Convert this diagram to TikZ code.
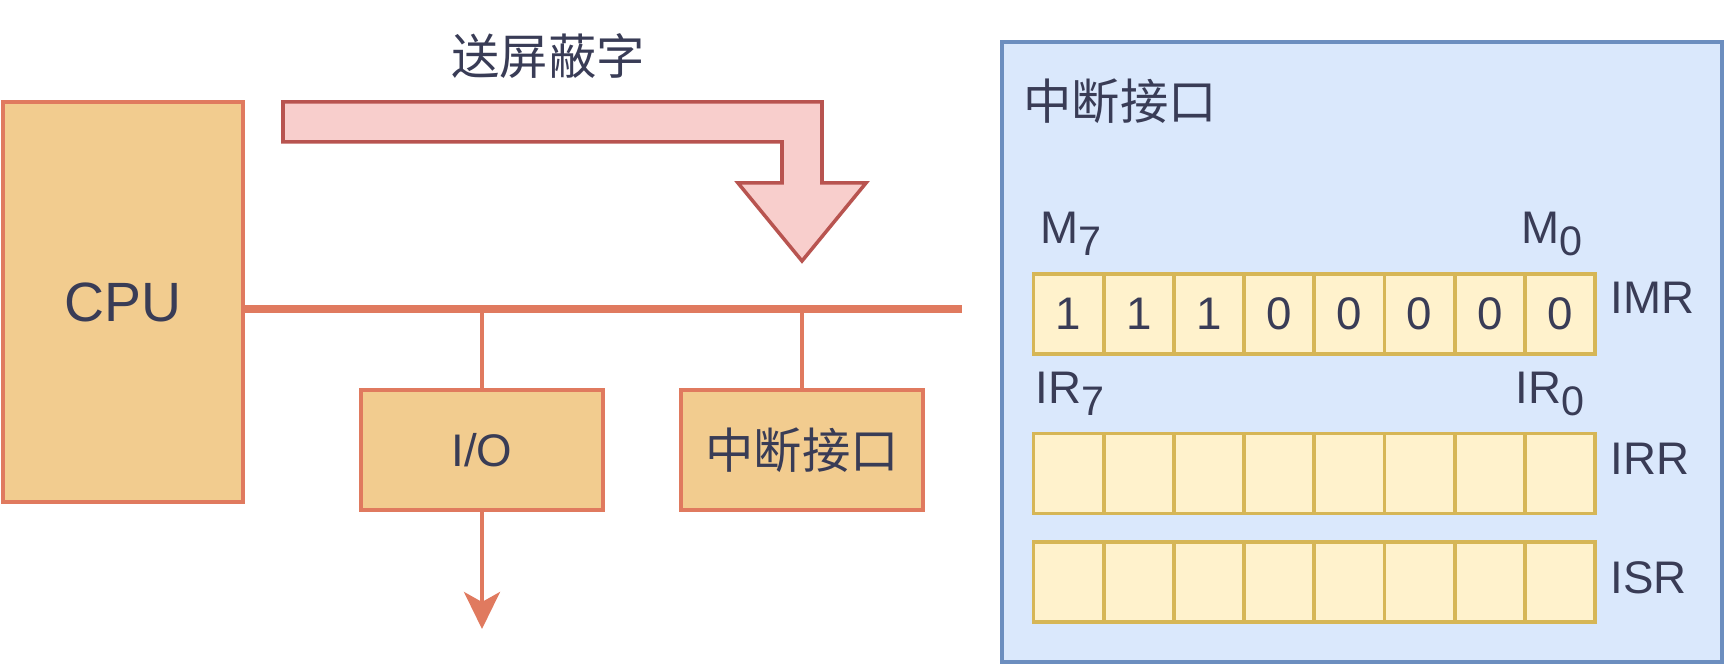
\documentclass[tikz,border=0pt]{standalone}
\usepackage{fontspec}
\setmainfont{Liberation Sans}
\newfontfamily\cjk{Noto Sans CJK SC}
\usepackage{tikz}
\usetikzlibrary{arrows.meta, positioning}
\definecolor{mysand}{RGB}{242,204,143}
\definecolor{myorange}{RGB}{224,122,95}
\definecolor{myink}{RGB}{57,60,86}
\definecolor{mypink}{RGB}{248,206,204}
\definecolor{myred}{RGB}{184,84,80}
\definecolor{mysky}{RGB}{218,232,252}
\definecolor{myblue}{RGB}{108,142,191}
\definecolor{mycream}{RGB}{255,242,204}
\definecolor{mygold}{RGB}{214,182,86}
\newcommand{\bigfont}{\fontsize{26pt}{30pt}\selectfont}
\newcommand{\cjkfont}{\fontsize{27.5pt}{32pt}\selectfont\cjk}
\newcommand{\lowsub}[1]{\raisebox{-0.24cm}{\fontsize{23.5pt}{26pt}\selectfont #1}}
\tikzset{
  unitbox/.style={rectangle, draw=myorange, fill=mysand,
    minimum width=4.84cm, minimum height=2.4cm, inner sep=0pt,
    font=\bigfont, text=myink, line width=2.2pt},
  panel/.style={rectangle, draw=myblue, fill=mysky,
    minimum width=14.4cm, minimum height=12.4cm, line width=2pt},
  cell/.style={rectangle, draw=mygold, fill=mycream,
    minimum width=1.404cm, minimum height=1.6cm, inner sep=0pt, outer sep=0pt,
    font=\bigfont, text=myink, line width=2.2pt},
  txt/.style={font=\bigfont, text=myink, inner sep=0pt},
  bentarrow/.style={draw=myred, fill=mypink, line width=2pt, line join=miter},
  bus/.style={line width=4.5pt, color=myorange},
  tap/.style={line width=2.2pt, color=myorange},
  arrow/.style={-{Stealth[length=0.74cm, width=0.72cm, inset=0.2cm]}, line width=2.2pt, color=myorange}
}
\begin{document}
\begin{tikzpicture}
  \useasboundingbox (0,0) rectangle (34.48,13.28);

  % left side: CPU, bus and devices
  \node[unitbox, minimum width=4.8cm, minimum height=8cm, font=\fontsize{31.5pt}{36pt}\selectfont] (cpu) at (2.46,7.24) {CPU};
  \node[unitbox] (io) at (9.64,4.28) {I/O};
  \node[unitbox] (intf) at (16.04,4.28) {\cjkfont 中断接口};
  \coordinate (busend) at (19.24,7.10);
  \coordinate (ioout) at (9.64,0.70);

  \draw[bus] (cpu.east |- busend) -- (busend);
  \draw[tap] (io.north |- busend) -- (io.north);
  \draw[tap] (intf.north |- busend) -- (intf.north);
  \draw[arrow] (io.south) -- (ioout);

  % mask word arrow
  \draw[bentarrow] (5.66,11.24) -- (16.44,11.24) -- (16.44,9.62) -- (17.32,9.62)
    -- (16.04,8.06) -- (14.76,9.62) -- (15.64,9.62) -- (15.64,10.44) -- (5.66,10.44) -- cycle;
  \node[txt, anchor=base] (masklbl) at (10.96,11.78) {\cjkfont 送屏蔽字};

  % right side: interrupt interface
  \node[panel] (pic) at (27.24,6.24) {};
  \node[txt, anchor=base west] (pictitle) at (20.46,10.88) {\cjkfont 中断接口};

  \foreach \v [count=\i] in {1,1,1,0,0,0,0,0}
    \node[cell] (imr-\i) at ({20.67+1.404*(\i-0.5)},7.0) {\v};
  \foreach \i in {1,...,8} {
    \node[cell] (irr-\i) at ({20.67+1.404*(\i-0.5)},3.81) {};
    \node[cell] (isr-\i) at ({20.67+1.404*(\i-0.5)},1.645) {};
  }

  \node[txt, anchor=base west] (m7) at (20.80,8.40) {M\lowsub{7}};
  \node[txt, anchor=base west] (m0) at (30.42,8.40) {M\lowsub{0}};
  \node[txt, anchor=base west] (ir7) at (20.70,5.20) {IR\lowsub{7}};
  \node[txt, anchor=base west] (ir0) at (30.30,5.20) {IR\lowsub{0}};

  \node[txt, anchor=west] (imrlbl) at (32.20,7.32) {IMR};
  \node[txt, anchor=west] (irrlbl) at (32.20,4.10) {IRR};
  \node[txt, anchor=west] (isrlbl) at (32.20,1.72) {ISR};
\end{tikzpicture}
\end{document}
